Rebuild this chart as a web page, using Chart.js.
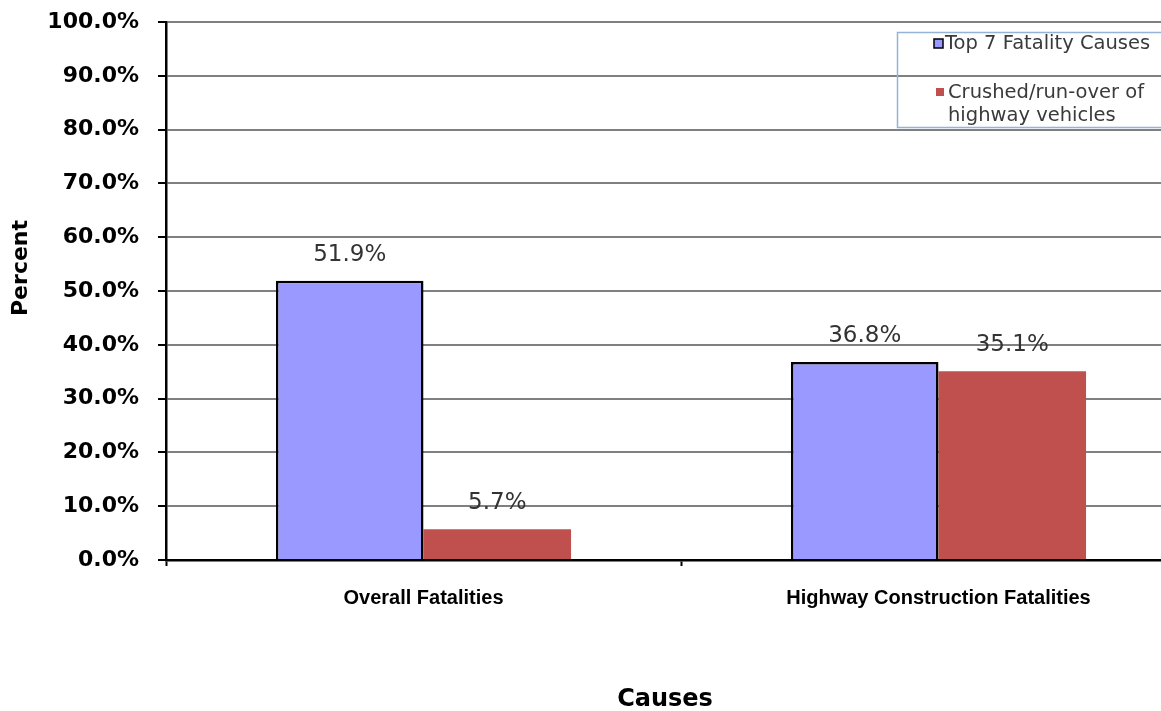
<!DOCTYPE html>
<html>
<head>
<meta charset="utf-8">
<script src="https://cdn.jsdelivr.net/npm/chart.js@4"></script>
<style>
html,body{margin:0;padding:0;background:#fff;overflow:hidden;}
#wrap{width:1200px;height:711px;}
</style>
</head>
<body>
<div id="wrap"><canvas id="c" width="1200" height="711"></canvas></div>
<script>
const categories = ["Overall Fatalities", "Highway Construction Fatalities"];
const seriesNames = ["Top 7 Fatality Causes", "Crushed/run-over of highway vehicles"];
const top7Values = [51.9, 36.8];
const crushedValues = [5.7, 35.1];
const yTickValues = [0, 10, 20, 30, 40, 50, 60, 70, 80, 90, 100];
const xAxisTitle = "Causes";
const yAxisTitle = "Percent";

const blue = '#9999FF', red = '#C0504D';

const labelPlugin = {
  id: 'valueLabels',
  afterDatasetsDraw(chart) {
    const ctx = chart.ctx;
    ctx.save();
    ctx.font = '23px "DejaVu Sans"';
    ctx.fillStyle = '#333333';
    ctx.textAlign = 'center';
    ctx.textBaseline = 'middle';
    chart.data.datasets.forEach((ds, di) => {
      const meta = chart.getDatasetMeta(di);
      meta.data.forEach((el, i) => {
        ctx.fillText(ds.data[i].toFixed(1) + '%', el.x, el.y - 26);
      });
    });
    ctx.restore();
  }
};

const decorPlugin = {
  id: 'decor',
  afterDraw(chart) {
    const ctx = chart.ctx;
    ctx.save();
    ctx.fillStyle = '#000';
    ctx.font = 'bold 24px "DejaVu Sans"';
    ctx.textAlign = 'center';
    ctx.textBaseline = 'middle';
    ctx.fillText(xAxisTitle, 665, 700);
    ctx.save();
    ctx.translate(21, 268);
    ctx.rotate(-Math.PI / 2);
    ctx.font = 'bold 22px "DejaVu Sans"';
    ctx.fillText(yAxisTitle, 0, 0);
    ctx.restore();
    // legend
    ctx.strokeStyle = '#95B3D7';
    ctx.lineWidth = 1.5;
    ctx.strokeRect(897.5, 32.5, 400, 95);
    ctx.fillStyle = blue;
    ctx.fillRect(934, 39, 9, 9);
    ctx.strokeStyle = '#000';
    ctx.lineWidth = 1.5;
    ctx.strokeRect(934, 39, 9, 9);
    ctx.fillStyle = red;
    ctx.fillRect(936, 88, 8, 8);
    ctx.fillStyle = '#3a3a3a';
    ctx.font = '19.5px "DejaVu Sans"';
    ctx.textAlign = 'left';
    ctx.fillText(seriesNames[0], 945, 44);
    ctx.fillText("Crushed/run-over of", 948, 93);
    ctx.fillText("highway vehicles", 948, 116);
    ctx.restore();
  }
};

new Chart(document.getElementById('c'), {
  type: 'bar',
  data: {
    labels: categories,
    datasets: [
      { label: seriesNames[0], data: top7Values, backgroundColor: blue, borderColor: '#000', borderWidth: 2.5, barPercentage: 1, categoryPercentage: 0.573 },
      { label: seriesNames[1], data: crushedValues, backgroundColor: red, borderWidth: 0, barPercentage: 1, categoryPercentage: 0.573 }
    ]
  },
  options: {
    responsive: false,
    animation: false,
    layout: { padding: { top: 22, right: 4, left: 0, bottom: 0 } },
    plugins: { legend: { display: false }, tooltip: { enabled: false } },
    scales: {
      x: {
        offset: true,
        grid: { display: true, drawOnChartArea: false, drawTicks: true, tickLength: 6, tickColor: '#000', offset: true, tickWidth: 2 },
        border: { color: '#000', width: 2.5 },
        ticks: { color: '#000', font: { family: 'Liberation Sans', weight: 'bold', size: 20 }, padding: 20 },
        afterFit(s) { s.height = 151; s.paddingLeft = 0; s.paddingRight = 0; }
      },
      y: {
        min: 0, max: 100,
        afterBuildTicks(s) { s.ticks = yTickValues.map(v => ({ value: v })); },
        grid: { color: '#808080', lineWidth: 2, tickColor: '#000', tickLength: 8, tickWidth: 2 },
        border: { color: '#000', width: 2.5 },
        ticks: { color: '#000', font: { family: 'DejaVu Sans', weight: 'bold', size: 22 }, padding: 19, callback: v => v.toFixed(1) + '%' },
        afterFit(s) { s.width = 166; s.paddingTop = 0; s.paddingBottom = 0; }
      }
    }
  },
  plugins: [labelPlugin, decorPlugin]
});
</script>
</body>
</html>
